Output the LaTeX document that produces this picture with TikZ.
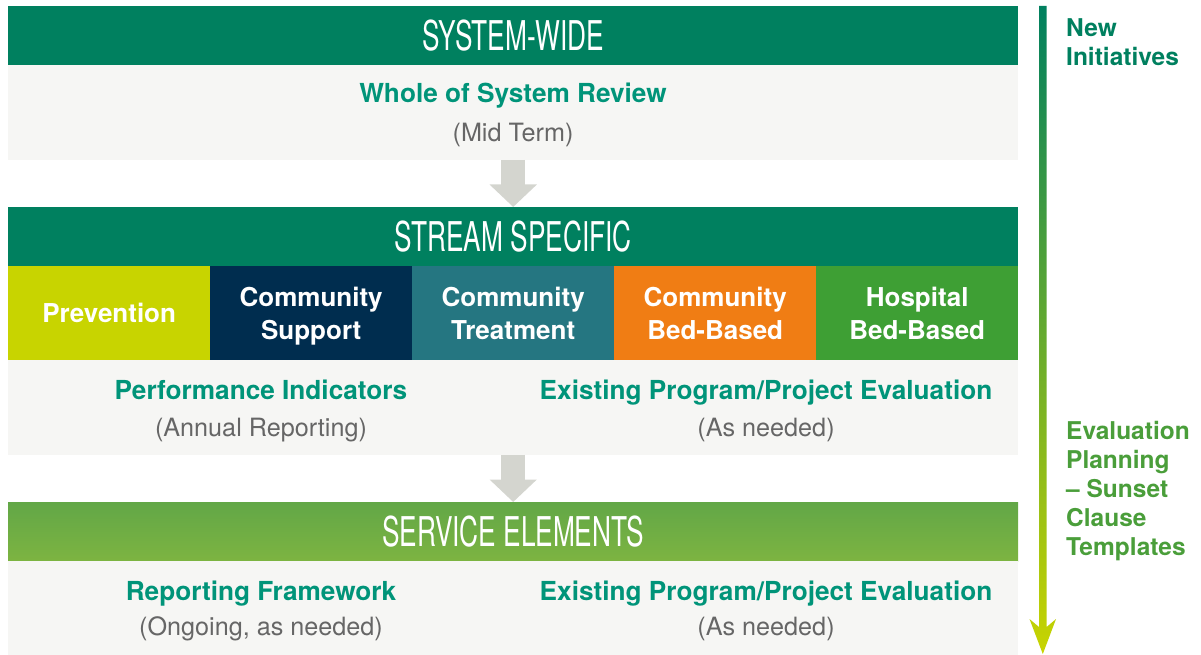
\documentclass[tikz,border=0pt]{standalone}
\usepackage{fontspec}
\setmainfont{TeX Gyre Heros}
\newfontfamily\barfont{TeX Gyre Heros}[FakeStretch=0.64]
\usetikzlibrary{arrows.meta}
\usetikzlibrary{positioning}

\definecolor{deepgreen}{HTML}{00805F}
\definecolor{titlegreen}{HTML}{009479}
\definecolor{notegray}{HTML}{666666}
\definecolor{panelgray}{HTML}{F6F6F4}
\definecolor{flowgray}{HTML}{D4D5CF}
\definecolor{limegreen}{HTML}{C8D400}
\definecolor{navyblue}{HTML}{002D4F}
\definecolor{tealblue}{HTML}{257681}
\definecolor{bedorange}{HTML}{F07D14}
\definecolor{hospgreen}{HTML}{3E9F34}
\definecolor{leafgreen}{HTML}{4A9E3A}
\definecolor{timegreen}{HTML}{2F9857}
\definecolor{svctop}{HTML}{62A747}
\definecolor{svcbottom}{HTML}{7DB441}

\begin{document}
\begin{tikzpicture}[
    x=1pt, y=-1pt,
    bar/.style={anchor=north west,minimum width=1010pt,minimum height=59pt,inner sep=0pt,text=white,font=\barfont\fontsize{41}{41}\selectfont},
    panel/.style={anchor=north west,fill=panelgray,minimum width=1010pt,minimum height=94.5pt,inner sep=0pt},
    stream/.style={anchor=north west,minimum width=202pt,minimum height=94pt,inner sep=0pt,text depth=0pt,text=white,align=center,font=\bfseries\fontsize{26}{32.6}\selectfont},
    title/.style={anchor=base,text=titlegreen,font=\bfseries\fontsize{26.2}{30}\selectfont},
    note/.style={anchor=base,text=notegray,font=\fontsize{25.2}{30}\selectfont},
    flow/.style={draw=flowgray,line width=23.5pt,-{Triangle[width=46pt,length=22.5pt]}},
    side/.style={anchor=north west,inner sep=0pt,align=left,font=\bfseries\fontsize{24.5}{29}\selectfont}
    ]
    \useasboundingbox (0,0) rectangle (1201,655);
    % system-wide
    \node [bar,fill=deepgreen] (sysbar) at (8,6) {SYSTEM-WIDE};
    \node [panel] (syspanel) at (8,65) {};
    \node [title] (review) at (513,103) {Whole of System Review};
    \node [note] (midterm) at (513,141.5) {(Mid Term)};
    % stream specific
    \node [bar,fill=deepgreen] (streambar) at (8,207) {STREAM SPECIFIC};
    \node [stream,fill=limegreen] (prev) at (8,266) {Prevention};
    \node [stream,fill=navyblue] (csupp) at (210,266) {Community\\Support};
    \node [stream,fill=tealblue] (ctreat) at (412,266) {Community\\Treatment};
    \node [stream,fill=bedorange] (cbed) at (614,266) {Community\\Bed-Based};
    \node [stream,fill=hospgreen] (hbed) at (816,266) {Hospital\\Bed-Based};
    \node [panel] (streampanel) at (8,360) {};
    \node [title] (perf) at (261,399.3) {Performance Indicators};
    \node [note] (annual) at (261,436.7) {(Annual Reporting)};
    \node [title] (exist1) at (766,399.3) {Existing Program/Project Evaluation};
    \node [note] (needed1) at (766,436.7) {(As needed)};
    % service elements
    \node [bar,top color=svctop,bottom color=svcbottom] (svcbar) at (8,502) {SERVICE ELEMENTS};
    \node [panel] (svcpanel) at (8,561) {};
    \node [title] (frame) at (261,600.7) {Reporting Framework};
    \node [note] (ongoing) at (261,635.7) {(Ongoing, as needed)};
    \node [title] (exist2) at (766,600.7) {Existing Program/Project Evaluation};
    \node [note] (needed2) at (766,635.7) {(As needed)};
    % arrows
    \draw [flow] (syspanel.south) -- (streambar.north);
    \draw [flow] (streampanel.south) -- (svcbar.north);
    % time line
    \coordinate (tltop) at (1042.8,6);
    \coordinate (tltip) at (1042.8,654);
    \shade [top color=deepgreen,middle color=timegreen,bottom color=limegreen]
        (tltop) ++(-3.8,0) -- ++(7.6,0) -- (1046.6,627) -- (1056,619) -- (tltip)
        -- (1029.5,619) -- (1039,627) -- cycle;
    \node [side,text=deepgreen] (newinit) at (1066,18.5) {New\\Initiatives};
    \node [side,text=leafgreen] (evalplan) at (1066,421.5) {Evaluation\\Planning\\– Sunset\\Clause\\Templates};
\end{tikzpicture}
\end{document}
